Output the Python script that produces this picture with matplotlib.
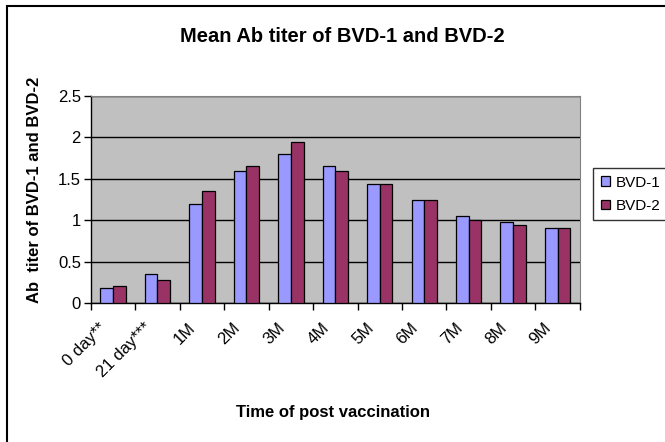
import matplotlib
matplotlib.use('Agg')
import matplotlib.pyplot as plt
import matplotlib.transforms as mtransforms
import numpy as np
from matplotlib.patches import Rectangle

plt.rcParams['font.family'] = ['Liberation Sans', 'DejaVu Sans']

# data
categories = ['0 day**', '21 day***', '1M', '2M', '3M', '4M', '5M', '6M', '7M', '8M', '9M']
bvd1 = [0.19, 0.35, 1.2, 1.6, 1.8, 1.65, 1.44, 1.25, 1.05, 0.98, 0.91]
bvd2 = [0.21, 0.28, 1.35, 1.65, 1.95, 1.6, 1.44, 1.25, 1.0, 0.95, 0.91]

fig = plt.figure(figsize=(6.65, 4.42), dpi=100)
ax = fig.add_axes([0.1364, 0.3138, 0.7356, 0.469])

# outer chart frame (runs off right/bottom edge)
fig.patches.append(Rectangle((7 / 665, -0.1), 1.2, 1 - 6 / 442 + 0.1,
                             transform=fig.transFigure, fill=False,
                             edgecolor='black', linewidth=1.5))

x = np.arange(len(categories))
w = 1 / 3.5
ax.set_facecolor('#C0C0C0')
ax.bar(x - w / 2, bvd1, w, color='#9999FF', edgecolor='black', linewidth=0.9, label='BVD-1', zorder=3)
ax.bar(x + w / 2, bvd2, w, color='#993366', edgecolor='black', linewidth=0.9, label='BVD-2', zorder=3)

ax.set_xlim(-0.5, len(categories) - 0.5)
ax.set_ylim(0, 2.5)
ax.set_yticks(np.arange(0, 2.51, 0.5))
ax.set_yticklabels(['0', '0.5', '1', '1.5', '2', '2.5'], fontsize=12)
ax.yaxis.grid(True, color='black', linewidth=1.0, zorder=1)
ax.set_axisbelow(True)

# ticks between categories, labels at centres
ax.set_xticks(np.arange(-0.5, len(categories), 1))
ax.set_xticklabels([])
ax.set_xticks(x, minor=True)
ax.set_xticklabels(categories, minor=True, rotation=45, ha='right', va='top',
                   rotation_mode='anchor', fontsize=12)
ax.tick_params(axis='x', which='minor', length=0, pad=2)
ax.tick_params(axis='x', which='major', length=5, direction='out', width=1)
ax.tick_params(axis='y', length=5, direction='out', width=1, pad=2)

# push rotated labels down-left like the original
shift = mtransforms.ScaledTranslation(-0.14, -0.14, fig.dpi_scale_trans)
for lbl in ax.get_xticklabels(minor=True):
    lbl.set_transform(lbl.get_transform() + shift)

for s in ['top', 'right']:
    ax.spines[s].set_color('#808080')
for s in ['left', 'bottom']:
    ax.spines[s].set_color('black')
    ax.spines[s].set_linewidth(1.0)

fig.text(342 / 665, 1 - 36 / 442, 'Mean Ab titer of BVD-1 and BVD-2', ha='center', va='center',
         fontsize=14.5, fontweight='bold')
fig.text(333 / 665, 1 - 413 / 442, 'Time of post vaccination', ha='center', va='center',
         fontsize=12, fontweight='bold')
fig.text(35 / 665, 1 - 190 / 442, 'Ab  titer of BVD-1 and BVD-2', ha='center', va='center',
         rotation=90, fontsize=12, fontweight='bold')

leg = fig.legend(loc='upper left', bbox_to_anchor=(593 / 665, 1 - 168 / 442),
                 fontsize=11, frameon=True, fancybox=False, edgecolor='black',
                 handlelength=0.6, handleheight=0.6, handletextpad=0.4,
                 borderpad=0.5, labelspacing=0.6, borderaxespad=0)
leg.get_frame().set_linewidth(1.0)

fig.savefig('out.png', dpi=100)
